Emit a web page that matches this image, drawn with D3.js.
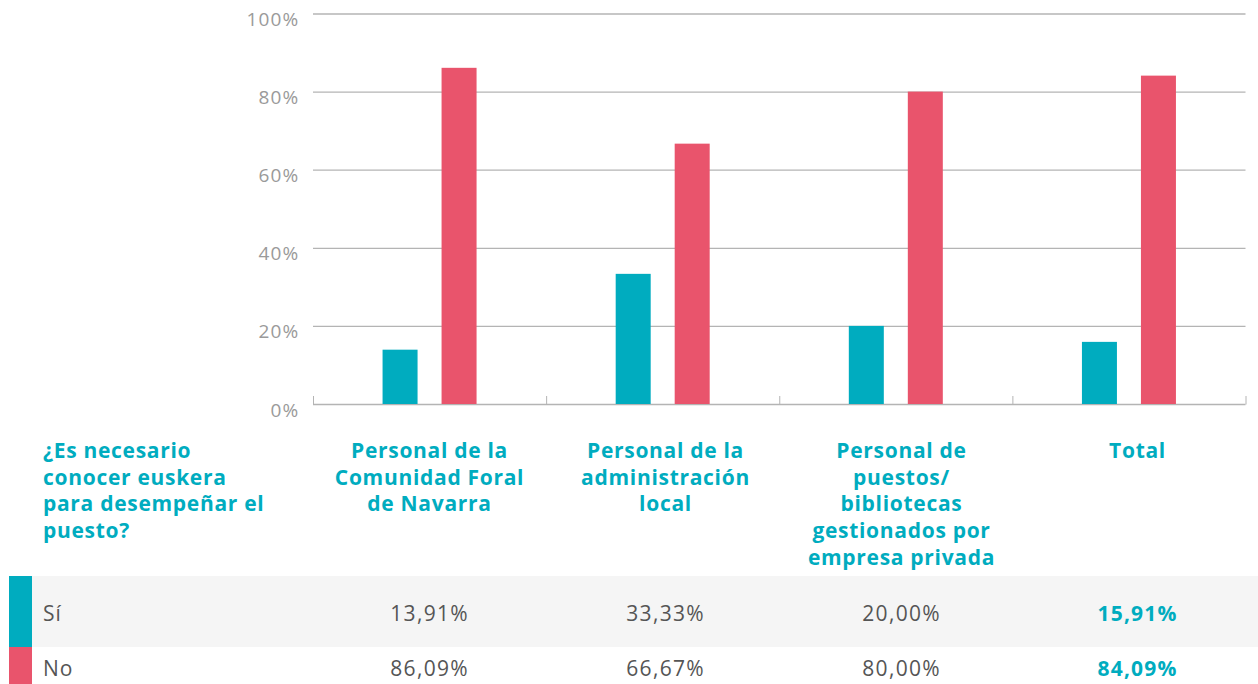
<!DOCTYPE html>
<html><head><meta charset="utf-8">
<script src="https://cdn.jsdelivr.net/npm/d3@7"></script>
<style>body{margin:0;background:#fff}svg{display:block}text{font-family:"Open Sans","Noto Sans",sans-serif}</style>
</head><body><svg id="c" width="1258" height="684"></svg>
<script>
const categories = [
  ["Personal de la","Comunidad Foral","de Navarra"],
  ["Personal de la","administración","local"],
  ["Personal de","puestos/","bibliotecas","gestionados por","empresa privada"],
  ["Total"]
];
const seriesNames = ["Sí","No"];
const siValues = [13.91, 33.33, 20.00, 15.91];
const noValues = [86.09, 66.67, 80.00, 84.09];
const siLabels = ["13,91%","33,33%","20,00%","15,91%"];
const noLabels = ["86,09%","66,67%","80,00%","84,09%"];
const yTicks = [0,20,40,60,80,100];
const question = ["¿Es necesario","conocer euskera","para desempeñar el","puesto?"];
const colors = ["#00acbf","#e9546c"];

const svg = d3.select("#c");
const x = d3.scaleBand().domain(d3.range(categories.length)).range([313,1245.5]);
const xt = d3.scaleBand().domain(d3.range(categories.length)).range([311,1255]);
const y = d3.scaleLinear().domain([0,100]).range([404,13.5]);

svg.append("g").selectAll("line").data(yTicks).join("line")
  .attr("x1",313).attr("x2",1245.5).attr("y1",d=>y(d)+0.5).attr("y2",d=>y(d)+0.5)
  .attr("stroke","#b4b4b4").attr("stroke-width",1.3);
svg.append("g").selectAll("line").data(d3.range(categories.length+1)).join("line")
  .attr("x1",d=>313+d*x.bandwidth()+0.5).attr("x2",d=>313+d*x.bandwidth()+0.5)
  .attr("y1",396).attr("y2",404.5).attr("stroke","#b4b4b4").attr("stroke-width",1);
svg.append("g").selectAll("text").data(yTicks).join("text")
  .attr("x",299.5).attr("y",d=>y(d)+12.5).attr("text-anchor","end")
  .attr("font-size",19).attr("letter-spacing",1.2).attr("fill","#9a9a9a").text(d=>d+"%");

const bw = 35, off = 29.5;
[siValues, noValues].forEach((vals,si)=>{
  svg.append("g").selectAll("rect").data(vals).join("rect")
    .attr("x",(d,i)=>x(i)+x.bandwidth()/2+(si===0?-off:off)-bw/2)
    .attr("width",bw)
    .attr("y",d=>y(d)).attr("height",d=>y(0)-y(d))
    .attr("fill",colors[si]);
});

const lh = 26.7;
categories.forEach((lines,i)=>{
  const t = svg.append("text").attr("text-anchor","middle").attr("font-size",21).attr("letter-spacing",0.7).attr("font-weight","bold").attr("fill",colors[0]);
  lines.forEach((l,j)=>t.append("tspan").attr("x",xt(i)+xt.bandwidth()/2+0.5).attr("y",458+j*lh).text(l));
});
const q = svg.append("text").attr("font-size",21).attr("letter-spacing",0.7).attr("font-weight","bold").attr("fill",colors[0]);
question.forEach((l,j)=>q.append("tspan").attr("x",43).attr("y",458+j*lh).text(l));

svg.append("rect").attr("x",9).attr("y",576).attr("width",1249).attr("height",71).attr("fill","#f5f5f5");
svg.append("rect").attr("x",9).attr("y",576).attr("width",23).attr("height",71).attr("fill",colors[0]);
svg.append("rect").attr("x",9).attr("y",647).attr("width",23).attr("height",40).attr("fill",colors[1]);
const rowY = [621, 675.5];
seriesNames.forEach((n,r)=>{
  svg.append("text").attr("x",43).attr("y",rowY[r]).attr("font-size",21).attr("letter-spacing",1).attr("fill","#555").text(n);
  const labs = r===0?siLabels:noLabels;
  svg.append("g").selectAll("text").data(labs).join("text")
    .attr("x",(d,i)=>xt(i)+xt.bandwidth()/2+0.6).attr("y",rowY[r]).attr("text-anchor","middle")
    .attr("font-size",21)
    .attr("letter-spacing",(d,i)=>i===labs.length-1?1.2:1.3)
    .attr("font-weight",(d,i)=>i===labs.length-1?"bold":"normal")
    .attr("fill",(d,i)=>i===labs.length-1?colors[0]:"#555")
    .text(d=>d);
});
</script></body></html>
